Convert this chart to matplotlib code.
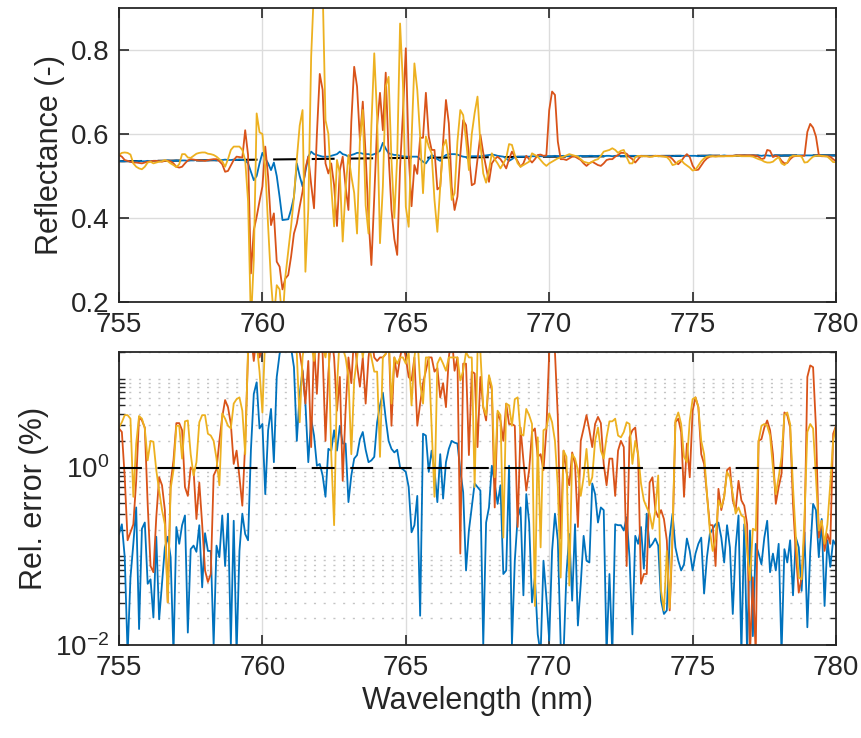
import numpy as np
import matplotlib
matplotlib.use('Agg')
import matplotlib.pyplot as plt

plt.rcParams['font.family'] = ['Liberation Sans', 'DejaVu Sans']
plt.rcParams['mathtext.default'] = 'regular'

# wavelength grid (nm), 0.1 nm step
wl = np.round(np.linspace(755, 780, 251), 1)

# reference reflectance (black dashed)
ref_wl = [755, 760, 765, 770, 775, 780]
ref_refl = [0.535, 0.539, 0.543, 0.546, 0.548, 0.549]

# retrieved reflectance, three methods
blue_refl = [
    0.536, 0.535, 0.535, 0.536, 0.534, 0.535, 0.535, 0.536, 0.535, 0.535,
    0.536, 0.535, 0.536, 0.536, 0.535, 0.536, 0.536, 0.537, 0.536, 0.536,
    0.537, 0.536, 0.537, 0.537, 0.536, 0.537, 0.537, 0.538, 0.537, 0.537,
    0.538, 0.537, 0.538, 0.538, 0.537, 0.538, 0.538, 0.539, 0.538, 0.538,
    0.539, 0.538, 0.539, 0.538, 0.537, 0.530, 0.510, 0.490, 0.500, 0.530,
    0.555, 0.542, 0.530, 0.514, 0.532, 0.500, 0.450, 0.395, 0.396, 0.397,
    0.420, 0.450, 0.530, 0.500, 0.475, 0.510, 0.546, 0.558, 0.552, 0.550,
    0.548, 0.546, 0.546, 0.546, 0.548, 0.550, 0.552, 0.558, 0.552, 0.550,
    0.546, 0.550, 0.552, 0.555, 0.555, 0.553, 0.552, 0.552, 0.550, 0.552,
    0.555, 0.560, 0.579, 0.565, 0.554, 0.552, 0.550, 0.550, 0.548, 0.547,
    0.546, 0.546, 0.546, 0.546, 0.546, 0.540, 0.534, 0.530, 0.540, 0.550,
    0.546, 0.540, 0.536, 0.545, 0.550, 0.552, 0.552, 0.552, 0.551, 0.548,
    0.546, 0.545, 0.546, 0.547, 0.547, 0.547, 0.547, 0.548, 0.549, 0.550,
    0.551, 0.550, 0.548, 0.547, 0.546, 0.542, 0.536, 0.540, 0.545, 0.546,
    0.546, 0.546, 0.546, 0.546, 0.547, 0.547, 0.547, 0.547, 0.547, 0.547,
    0.547, 0.547, 0.548, 0.547, 0.547, 0.548, 0.547, 0.547, 0.548, 0.547,
    0.547, 0.548, 0.547, 0.547, 0.548, 0.548, 0.547, 0.548, 0.548, 0.547,
    0.548, 0.548, 0.547, 0.548, 0.548, 0.548, 0.547, 0.548, 0.548, 0.548,
    0.548, 0.547, 0.548, 0.548, 0.548, 0.548, 0.548, 0.548, 0.547, 0.548,
    0.548, 0.548, 0.548, 0.547, 0.548, 0.548, 0.548, 0.548, 0.548, 0.548,
    0.548, 0.548, 0.547, 0.548, 0.548, 0.548, 0.549, 0.548, 0.548, 0.548,
    0.548, 0.549, 0.548, 0.548, 0.548, 0.549, 0.548, 0.548, 0.549, 0.548,
    0.548, 0.549, 0.548, 0.549, 0.548, 0.549, 0.549, 0.548, 0.549, 0.549,
    0.549, 0.548, 0.549, 0.549, 0.549, 0.548, 0.549, 0.549, 0.549, 0.549,
    0.549, 0.549, 0.549, 0.548, 0.549, 0.549, 0.549, 0.549, 0.549, 0.549,
    0.549]

red_refl = [
    0.550, 0.546, 0.538, 0.536, 0.534, 0.532, 0.532, 0.531, 0.530, 0.532,
    0.534, 0.535, 0.536, 0.536, 0.535, 0.534, 0.536, 0.536, 0.535, 0.530,
    0.522, 0.520, 0.522, 0.530, 0.537, 0.540, 0.539, 0.538, 0.537, 0.537,
    0.536, 0.538, 0.539, 0.540, 0.540, 0.535, 0.528, 0.510, 0.512, 0.525,
    0.538, 0.546, 0.545, 0.544, 0.609, 0.550, 0.268, 0.371, 0.403, 0.440,
    0.475, 0.570, 0.498, 0.383, 0.411, 0.296, 0.284, 0.230, 0.256, 0.264,
    0.308, 0.363, 0.387, 0.427, 0.463, 0.518, 0.546, 0.480, 0.423, 0.600,
    0.743, 0.705, 0.530, 0.506, 0.530, 0.478, 0.381, 0.514, 0.546, 0.475,
    0.419, 0.629, 0.760, 0.713, 0.586, 0.677, 0.550, 0.400, 0.288, 0.450,
    0.620, 0.698, 0.609, 0.746, 0.550, 0.420, 0.350, 0.312, 0.520, 0.650,
    0.804, 0.550, 0.428, 0.526, 0.505, 0.591, 0.591, 0.698, 0.594, 0.562,
    0.562, 0.468, 0.474, 0.580, 0.681, 0.625, 0.474, 0.419, 0.451, 0.550,
    0.633, 0.621, 0.550, 0.478, 0.482, 0.540, 0.598, 0.555, 0.520, 0.486,
    0.530, 0.540, 0.546, 0.540, 0.530, 0.518, 0.540, 0.558, 0.546, 0.535,
    0.522, 0.530, 0.548, 0.540, 0.532, 0.540, 0.550, 0.551, 0.548, 0.549,
    0.657, 0.701, 0.693, 0.582, 0.540, 0.540, 0.538, 0.542, 0.546, 0.546,
    0.542, 0.538, 0.530, 0.524, 0.530, 0.534, 0.530, 0.526, 0.524, 0.530,
    0.538, 0.540, 0.540, 0.546, 0.550, 0.555, 0.555, 0.553, 0.545, 0.540,
    0.532, 0.540, 0.548, 0.547, 0.547, 0.546, 0.547, 0.548, 0.548, 0.547,
    0.547, 0.546, 0.546, 0.540, 0.532, 0.528, 0.535, 0.545, 0.552, 0.545,
    0.525, 0.514, 0.515, 0.525, 0.535, 0.542, 0.546, 0.547, 0.547, 0.547,
    0.547, 0.547, 0.548, 0.548, 0.548, 0.549, 0.549, 0.549, 0.549, 0.549,
    0.549, 0.549, 0.548, 0.546, 0.540, 0.542, 0.562, 0.560, 0.545, 0.548,
    0.546, 0.536, 0.530, 0.531, 0.540, 0.546, 0.548, 0.548, 0.548, 0.548,
    0.605, 0.624, 0.615, 0.594, 0.550, 0.547, 0.547, 0.547, 0.546, 0.540,
    0.535]

yellow_refl = [
    0.550, 0.555, 0.556, 0.555, 0.551, 0.530, 0.522, 0.518, 0.516, 0.522,
    0.532, 0.534, 0.530, 0.532, 0.534, 0.535, 0.538, 0.535, 0.530, 0.526,
    0.521, 0.528, 0.552, 0.552, 0.544, 0.543, 0.548, 0.553, 0.555, 0.556,
    0.556, 0.553, 0.552, 0.550, 0.546, 0.540, 0.535, 0.522, 0.540, 0.562,
    0.570, 0.570, 0.570, 0.562, 0.538, 0.440, 0.150, 0.300, 0.649, 0.604,
    0.600, 0.520, 0.380, 0.250, 0.160, 0.240, 0.230, 0.150, 0.260, 0.320,
    0.380, 0.450, 0.540, 0.620, 0.657, 0.272, 0.420, 0.784, 0.950, 0.980,
    0.960, 0.950, 0.633, 0.600, 0.475, 0.380, 0.538, 0.506, 0.344, 0.470,
    0.550, 0.500, 0.460, 0.363, 0.586, 0.657, 0.430, 0.363, 0.620, 0.792,
    0.640, 0.340, 0.475, 0.713, 0.736, 0.538, 0.400, 0.545, 0.863, 0.720,
    0.427, 0.379, 0.586, 0.768, 0.705, 0.594, 0.459, 0.594, 0.570, 0.554,
    0.443, 0.367, 0.475, 0.570, 0.586, 0.538, 0.443, 0.459, 0.582, 0.657,
    0.645, 0.586, 0.514, 0.600, 0.650, 0.689, 0.578, 0.506, 0.484, 0.514,
    0.554, 0.540, 0.530, 0.518, 0.530, 0.542, 0.576, 0.574, 0.550, 0.530,
    0.522, 0.526, 0.530, 0.534, 0.554, 0.550, 0.546, 0.538, 0.530, 0.524,
    0.530, 0.534, 0.538, 0.542, 0.544, 0.546, 0.549, 0.552, 0.550, 0.548,
    0.546, 0.540, 0.534, 0.532, 0.530, 0.534, 0.538, 0.540, 0.548, 0.558,
    0.560, 0.562, 0.566, 0.562, 0.555, 0.560, 0.562, 0.545, 0.530, 0.530,
    0.545, 0.548, 0.547, 0.547, 0.547, 0.546, 0.546, 0.548, 0.547, 0.547,
    0.546, 0.545, 0.538, 0.526, 0.528, 0.535, 0.538, 0.530, 0.525, 0.520,
    0.513, 0.515, 0.525, 0.535, 0.542, 0.546, 0.547, 0.547, 0.546, 0.547,
    0.547, 0.547, 0.547, 0.547, 0.547, 0.548, 0.548, 0.547, 0.547, 0.547,
    0.547, 0.546, 0.543, 0.540, 0.538, 0.534, 0.532, 0.532, 0.534, 0.540,
    0.545, 0.530, 0.526, 0.532, 0.545, 0.548, 0.548, 0.548, 0.546, 0.532,
    0.533, 0.540, 0.546, 0.548, 0.548, 0.548, 0.547, 0.546, 0.540, 0.533,
    0.533]

# relative error (%), stored as log10 values
blue_err_log = [
    -0.75, -0.64, -1.01, -2.1, -1.24, -0.86, -0.45, -1.82, -0.69, -0.62,
    -1.31, -1.26, -1.69, -0.78, -1.71, -1.31, -0.90, -0.78, -1.01, -2.1,
    -0.67, -0.86, -0.65, -0.54, -1.86, -0.92, -0.88, -0.95, -0.65, -1.35,
    -0.74, -0.94, -0.94, -2.0, -0.88, -1.01, -0.54, -1.11, -0.52, -2.0,
    -0.60, -2.1, -0.94, -0.52, -0.75, -0.82, 0.20, 0.83, 0.96, 0.44,
    0.49, -0.30, 0.42, 0.66, 0.06, 1.02, 1.28, 1.4, 1.5, 1.45,
    1.35, 1.13, 0.30, 0.83, 1.09, 0.72, 0.06, 0.55, 0.36, 0.02,
    0.04, -0.09, -0.33, 0.21, 0.19, 0.42, 0.19, 0.47, 0.27, 0.27,
    -0.39, -0.09, 0.10, 0.14, 0.32, 0.40, 0.20, 0.06, 0.08, 0.12,
    0.51, 0.70, 0.84, 0.55, 0.30, 0.21, 0.17, 0.20, 0.0, -0.02,
    -0.05, -0.22, -0.73, -0.65, -0.32, -1.67, 0.38, 0.36, -0.05, 0.19,
    -0.03, -0.39, 0.15, -0.35, 0.06, 0.21, 0.30, 0.28, 0.27, -0.03,
    -0.28, -1.16, -0.71, -0.45, -0.18, -0.22, -0.26, -2.0, -0.62, -0.45,
    0.02, -0.18, -0.41, -0.20, -1.20, -1.16, 0.02, -2.0, -1.05, -0.56,
    -0.45, -1.44, -0.30, -0.62, -1.52, -1.24, -1.88, -2.1, -1.05, -1.46,
    -1.95, -0.94, -0.52, -0.82, -2.0, -2.1, -1.20, -0.75, -1.50, -0.64,
    -1.78, -1.31, -0.77, -1.05, -1.07, -0.18, -0.30, -0.62, -0.45, -0.48,
    -2.1, -1.2, -2.1, -0.64, -0.65, -0.65, -0.71, -0.56, -1.01, -1.88,
    -0.77, -0.86, -0.67, -1.14, -0.52, -0.90, -0.86, -0.80, -0.88, -1.50,
    -1.65, -1.61, -0.79, -0.52, -0.90, -1.05, -1.16, -1.09, -0.80, -0.94,
    -1.16, -0.97, -0.86, -0.79, -1.42, -1.01, -0.75, -0.69, -0.64, -0.62,
    -0.79, -1.07, -0.65, -0.90, -1.65, -0.90, -0.54, -2.1, -0.64, -2.1,
    -0.71, -1.9, -0.86, -0.97, -1.09, -0.79, -0.60, -1.18, -0.97, -1.16,
    -0.86, -2.1, -0.92, -1.07, -0.82, -1.44, -0.79, -0.90, -1.39, -0.73,
    -1.80, -0.95, -0.41, -0.48, -1.01, -0.58, -1.56, -0.82, -1.12, -0.82,
    -0.88]

red_err_log = [
    0.44, 0.40, -0.11, -0.82, -0.73, -0.64, -0.15, 0.57, 0.53, 0.45,
    -0.41, -1.11, -1.18, -0.56, -0.11, -0.20, -0.48, -1.52, -0.18, 0.08,
    0.50, 0.50, 0.42, -0.22, -0.32, 0.0, -0.03, -0.58, -0.17, -0.64,
    -1.16, -1.29, -1.20, -0.09, -0.02, 0.30, 0.57, 0.76, 0.68, 0.49,
    0.04, 0.19, -0.11, -0.43, 0.27, 1.28, 1.5, 1.2, 1.5, 1.24,
    1.35, 1.5, 1.6, 1.5, 1.4, 1.55, 1.6, 1.5, 1.45, 1.6,
    1.5, 1.4, 1.5, 1.3, 1.09, 0.72, 1.2, 0.23, 1.4, 0.83,
    1.5, 1.28, 0.30, 1.06, 1.5, 1.24, 0.64, 1.02, -0.15, 0.64,
    1.24, 0.95, 1.5, 1.15, 0.91, 1.24, 0.72, 1.24, 1.5, 1.24,
    1.20, 1.24, 1.24, 1.28, 1.5, 0.47, 1.24, 1.02, 1.24, 1.4,
    1.24, 1.02, 0.98, 1.24, 0.47, 0.72, 0.95, 1.09, 1.24, 1.24,
    1.08, 1.12, 0.79, 0.95, 0.68, 1.24, 1.5, 1.09, 1.24, -0.97,
    1.17, 1.17, 0.14, 1.08, 1.06, 0.23, 1.02, 0.68, 0.53, 1.02,
    0.87, -0.45, 0.61, 0.53, 0.30, 0.72, 0.49, 0.49, 0.47, -0.67,
    0.45, 0.08, -0.26, -0.03, 0.40, 0.44, 0.12, 0.15, -0.03, 0.42,
    1.30, 1.4, 1.30, 0.57, -0.80, 0.19, -0.05, -0.20, 0.17, 0.04,
    -0.67, 0.30, 0.44, 0.59, 0.42, 0.23, 0.49, 0.57, 0.50, 0.04,
    -0.20, 0.10, 0.10, -0.32, 0.19, 0.30, 0.23, -1.11, 0.34, 0.42,
    0.45, 0.12, -1.31, -1.20, -1.20, -0.17, -0.11, -0.48, -0.56, -0.48,
    -0.58, -0.82, -1.61, -0.80, 0.51, 0.55, 0.40, -0.33, 0.27, -0.11,
    0.64, 0.79, 0.68, 0.15, 0.04, -0.30, -0.65, -0.65, -1.11, -0.24,
    -0.48, -0.33, -0.03, 0.0, -0.37, -0.48, -0.15, -0.37, -0.43, -0.64,
    -2.1, -1.24, -2.1, 0.30, 0.32, 0.45, 0.53, 0.42, 0.15, -0.41,
    -0.22, -0.07, 0.62, 0.59, 0.45, -0.41, -0.97, -1.41, -1.24, -0.75,
    1.02, 1.15, 1.13, 0.45, -0.79, -0.60, -0.94, -0.75, -0.86, 0.38,
    0.47]

yellow_err_log = [
    0.45, 0.51, 0.59, 0.59, 0.55, -0.33, 0.27, 0.58, 0.55, 0.44,
    0.08, 0.30, 0.29, -0.03, -0.26, -0.48, -0.64, -1.52, -0.24, -0.03,
    0.47, 0.47, 0.10, 0.52, 0.53, 0.15, -0.09, 0.06, 0.51, 0.59,
    0.59, 0.38, 0.36, 0.30, 0.10, -0.20, 0.61, 0.55, 0.47, 0.44,
    0.72, 0.77, 0.79, 0.64, 0.15, 1.35, 1.5, 1.5, 1.4, 1.08,
    0.62, 1.5, 1.6, 1.5, 1.4, 1.5, 1.6, 1.45, 1.5, 1.6,
    1.5, 1.5, 1.28, 0.51, 1.24, 1.5, 1.3, 1.4, 1.2, 1.5,
    1.5, 1.35, 1.24, 1.5, 0.15, -0.65, 0.91, 1.5, 1.35, 1.24,
    1.02, 0.15, 0.98, 1.24, 1.5, 1.24, 1.5, 1.4, 1.24, 1.08,
    1.08, 0.12, 1.24, 1.28, 1.5, 0.72, 1.24, 1.17, 1.24, 1.24,
    1.17, 1.3, 0.70, 1.24, 1.5, 0.95, 0.72, 1.24, 1.24, 0.45,
    -0.33, 1.17, 1.24, 1.17, 1.09, 1.24, 1.24, 1.24, 1.24, 0.98,
    1.09, 1.3, 1.24, 1.24, -0.22, 1.30, 1.30, 0.68, 0.59, 1.04,
    0.91, -0.11, 0.64, 0.59, -0.79, 0.72, 0.70, 0.47, 0.77, 0.79,
    0.38, 0.36, 0.66, 0.59, 0.49, -1.56, 0.34, -0.90, 0.42, 0.44,
    0.61, 0.51, 0.30, -0.22, -1.24, 0.19, 0.12, -1.33, 0.15, 0.10,
    -0.03, -0.32, -0.11, 0.21, -0.20, -0.11, 0.30, 0.45, 0.19, 0.10,
    0.34, 0.52, 0.52, 0.55, 0.36, 0.34, 0.40, 0.51, 0.49, 0.04,
    0.30, 0.15, -0.18, -0.37, -0.45, -0.52, -0.69, -0.48, -0.09, -1.39,
    -1.61, -0.94, -1.58, -0.71, 0.53, 0.62, 0.49, 0.12, 0.06, 0.53,
    0.77, 0.79, 0.68, 0.30, 0.15, -0.30, -0.71, -0.94, -0.80, -0.37,
    -0.45, -0.33, -0.05, -0.11, -0.30, -0.52, -0.45, -0.54, -0.56, -0.94,
    -1.27, -0.69, -0.71, 0.30, 0.47, 0.49, 0.47, 0.36, 0.0, -0.30,
    -0.11, 0.12, 0.59, 0.62, 0.49, -0.22, -0.79, -1.24, -1.26, -0.56,
    0.40, 0.49, 0.44, -0.11, -0.71, -0.60, -0.86, -0.64, -0.18, 0.30,
    0.47]

err_threshold = 1.0  # %

c_blue = '#0072BD'
c_red = '#D95319'
c_yellow = '#EDB120'
c_axis = '#262626'
c_grid = '#dcdcdc'

fig = plt.figure(figsize=(8.61, 7.38), dpi=100)
ax1 = fig.add_axes([0.1382, 0.5908, 0.8328, 0.3984])
ax2 = fig.add_axes([0.1382, 0.1260, 0.8328, 0.3970])

dash = (11, 7.5)

# ---- top: reflectance
ax1.plot(ref_wl, ref_refl, color='black', lw=1.5, dashes=dash)
ax1.plot(wl, blue_refl, color=c_blue, lw=1.3)
ax1.plot(wl, red_refl, color=c_red, lw=1.3)
ax1.plot(wl, yellow_refl, color=c_yellow, lw=1.3)
ax1.set_xlim(755, 780)
ax1.set_ylim(0.2, 0.9)
ax1.set_xticks([755, 760, 765, 770, 775, 780])
ax1.set_yticks([0.2, 0.4, 0.6, 0.8])
ax1.set_ylabel('Reflectance (-)', fontsize=22, color=c_axis)
ax1.grid(True, color=c_grid, lw=1)
ax1.set_axisbelow(True)

# ---- bottom: relative error
ax2.plot(wl, 10 ** np.array(blue_err_log), color=c_blue, lw=1.3)
ax2.plot(wl, 10 ** np.array(red_err_log), color=c_red, lw=1.3)
ax2.plot(wl, 10 ** np.array(yellow_err_log), color=c_yellow, lw=1.3)
ax2.plot([755, 780], [err_threshold, err_threshold], color='black', lw=1.5, dashes=dash)
ax2.set_yscale('log')
ax2.set_xlim(755, 780)
ax2.set_ylim(0.01, 20)
ax2.set_xticks([755, 760, 765, 770, 775, 780])
ax2.set_yticks([0.01, 1])
ax2.set_yticklabels(['$10^{-2}$', '$10^{0}$'])
minor = [k * 10.0 ** e for e in (-2, -1, 0, 1) for k in range(1, 10)]
minor = [m for m in minor if 0.01 < m <= 20 and m not in (1.0,)]
ax2.set_yticks(minor, minor=True)
ax2.set_yticklabels([], minor=True)
ax2.grid(True, which='major', color=c_grid, lw=1)
ax2.grid(True, which='minor', axis='y', color='#c4c4c4', lw=1.0, linestyle=(0, (1.5, 5.5)))
ax2.set_axisbelow(True)
ax2.set_xlabel('Wavelength (nm)', fontsize=22, color=c_axis)
ax2.set_ylabel('Rel. error (%)', fontsize=22, color=c_axis)

for ax in (ax1, ax2):
    ax.tick_params(which='major', direction='in', length=7, width=1.2,
                   top=True, right=True, labelsize=20, colors=c_axis, pad=7)
    ax.tick_params(which='minor', direction='in', length=4, width=1.0,
                   top=False, right=True, left=True, colors=c_axis)
    for s in ax.spines.values():
        s.set_color(c_axis)
        s.set_linewidth(1.3)

fig.savefig('out.png', dpi=100)
